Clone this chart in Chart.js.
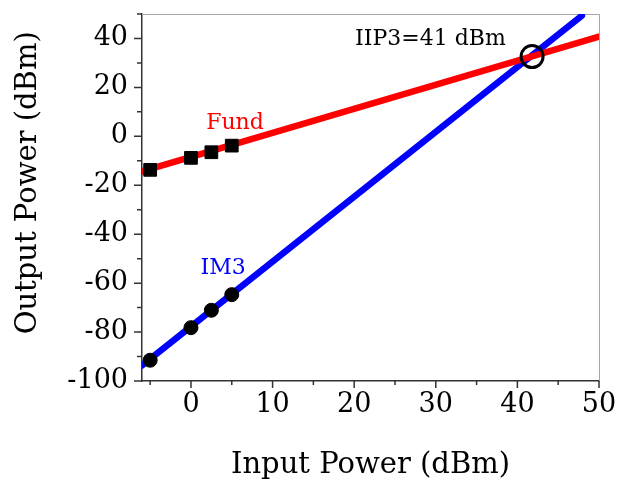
<!DOCTYPE html>
<html>
<head>
<meta charset="utf-8">
<script src="https://cdn.jsdelivr.net/npm/chart.js@4.4.1/dist/chart.umd.min.js"></script>
<style>
html, body { margin: 0; padding: 0; background: #fff; }
</style>
</head>
<body>
<canvas id="chart" width="619" height="484"></canvas>
<script>
// measured points
const inputPower = [-5, 0, 2.5, 5];
const fundMeasured = [-13.7, -8.8, -6.5, -3.8];
const im3Measured = [-91.5, -78.2, -71.1, -64.7];
// fitted lines (end points)
const fundFitX = [-6, 50];
const fundFitY = [-14.3, 40.8];
const im3FitX = [-6, 47.9];
const im3FitY = [-93.6, 49.3];
// intercept point
const iip3Point = [41.8, 32.6];
// ticks
const xTickLabels = [0, 10, 20, 30, 40, 50];
const xMinorTicks = [-5, 5, 15, 25, 35, 45];
const yTickLabels = [-100, -80, -60, -40, -20, 0, 20, 40];
const yMinorTicks = [-90, -70, -50, -30, -10, 10, 30, 50];

const toXY = (xs, ys) => xs.map((x, i) => ({ x: x, y: ys[i] }));

const serif = 'DejaVu Serif';

const axisDecor = {
    id: 'axisDecor',
    beforeDatasetsDraw(chart) {
        const { ctx, chartArea, scales: { x, y } } = chart;
        ctx.save();
        // light frame top / right
        ctx.strokeStyle = '#a6a6a6';
        ctx.lineWidth = 1;
        ctx.beginPath();
        ctx.moveTo(chartArea.left, chartArea.top + 0.5);
        ctx.lineTo(chartArea.right + 0.5, chartArea.top + 0.5);
        ctx.lineTo(chartArea.right + 0.5, chartArea.bottom);
        ctx.stroke();
        // tick marks
        ctx.strokeStyle = '#333';
        ctx.lineWidth = 1.5;
        ctx.beginPath();
        xTickLabels.forEach(v => {
            const px = x.getPixelForValue(v);
            ctx.moveTo(px, chartArea.bottom);
            ctx.lineTo(px, chartArea.bottom + 7);
        });
        xMinorTicks.forEach(v => {
            const px = x.getPixelForValue(v);
            ctx.moveTo(px, chartArea.bottom);
            ctx.lineTo(px, chartArea.bottom + 4);
        });
        yTickLabels.forEach(v => {
            const py = y.getPixelForValue(v);
            ctx.moveTo(chartArea.left, py);
            ctx.lineTo(chartArea.left - 8, py);
        });
        yMinorTicks.forEach(v => {
            const py = y.getPixelForValue(v);
            ctx.moveTo(chartArea.left, py);
            ctx.lineTo(chartArea.left - 5, py);
        });
        ctx.stroke();
        // y axis title, sits a bit above the plot centre
        ctx.translate(28, y.getPixelForValue(-19));
        ctx.rotate(-Math.PI / 2);
        ctx.font = '29px "' + serif + '"';
        ctx.fillStyle = '#000';
        ctx.textAlign = 'center';
        ctx.textBaseline = 'middle';
        ctx.fillText('Output Power (dBm)', 0, 0);
        ctx.restore();
    },
    afterDatasetsDraw(chart) {
        const { ctx, scales: { x, y } } = chart;
        ctx.save();
        ctx.font = '22px "' + serif + '"';
        ctx.textAlign = 'center';
        ctx.textBaseline = 'alphabetic';
        ctx.fillStyle = '#ff0000';
        ctx.fillText('Fund', x.getPixelForValue(5.4), y.getPixelForValue(3.1));
        ctx.fillStyle = '#0000ff';
        ctx.fillText('IM3', x.getPixelForValue(3.95), y.getPixelForValue(-56.4));
        ctx.fillStyle = '#000';
        ctx.fillText('IIP3=41 dBm', x.getPixelForValue(29.35), y.getPixelForValue(37.4));
        ctx.restore();
    }
};

new Chart(document.getElementById('chart'), {
    type: 'scatter',
    data: {
        datasets: [
            {
                label: 'Fund markers',
                data: toXY(inputPower, fundMeasured),
                pointStyle: 'rect',
                pointRadius: 9,
                backgroundColor: '#000',
                borderColor: '#000',
                borderWidth: 1,
                order: 0
            },
            {
                label: 'IM3 markers',
                data: toXY(inputPower, im3Measured),
                pointStyle: 'circle',
                pointRadius: 7,
                backgroundColor: '#000',
                borderColor: '#000',
                borderWidth: 1,
                order: 0
            },
            {
                label: 'IIP3',
                data: [{ x: iip3Point[0], y: iip3Point[1] }],
                pointStyle: 'circle',
                pointRadius: 11,
                backgroundColor: 'rgba(0,0,0,0)',
                borderColor: '#000',
                borderWidth: 3,
                order: 0
            },
            {
                label: 'Fund',
                type: 'line',
                data: toXY(fundFitX, fundFitY),
                borderColor: '#ff0000',
                borderWidth: 6.5,
                borderCapStyle: 'round',
                pointRadius: 0,
                fill: false,
                order: 1
            },
            {
                label: 'IM3',
                type: 'line',
                data: toXY(im3FitX, im3FitY),
                borderColor: '#0000ff',
                borderWidth: 6.5,
                borderCapStyle: 'round',
                pointRadius: 0,
                fill: false,
                order: 1
            }
        ]
    },
    options: {
        responsive: false,
        animation: false,
        layout: { padding: { left: 0, right: 20, top: 13, bottom: 0 } },
        plugins: {
            legend: { display: false },
            tooltip: { enabled: false }
        },
        scales: {
            x: {
                type: 'linear',
                min: -6,
                max: 50,
                afterBuildTicks: s => { s.ticks = xTickLabels.map(v => ({ value: v })); },
                afterFit: s => {
                    s.height = 103;
                    s.paddingLeft = 0; s.paddingRight = 0; s.paddingTop = 0; s.paddingBottom = 0;
                },
                ticks: {
                    font: { family: serif, size: 27 },
                    color: '#000',
                    padding: 8,
                    maxRotation: 0,
                    autoSkip: false
                },
                grid: { display: false, drawTicks: false },
                border: { display: true, color: '#333', width: 1.5 },
                title: {
                    display: true,
                    text: 'Input Power (dBm)',
                    font: { family: serif, size: 29 },
                    color: '#000',
                    padding: { top: 0, bottom: 1 }
                }
            },
            y: {
                type: 'linear',
                min: -100,
                max: 50,
                afterBuildTicks: s => { s.ticks = yTickLabels.map(v => ({ value: v })); },
                afterFit: s => {
                    s.width = 142;
                    s.paddingLeft = 0; s.paddingRight = 0; s.paddingTop = 0; s.paddingBottom = 0;
                },
                ticks: {
                    font: { family: serif, size: 27 },
                    color: '#000',
                    padding: 14
                },
                grid: { display: false, drawTicks: false },
                border: { display: true, color: '#333', width: 1.5 },
                title: { display: false }
            }
        }
    },
    plugins: [axisDecor]
});
</script>
</body>
</html>
